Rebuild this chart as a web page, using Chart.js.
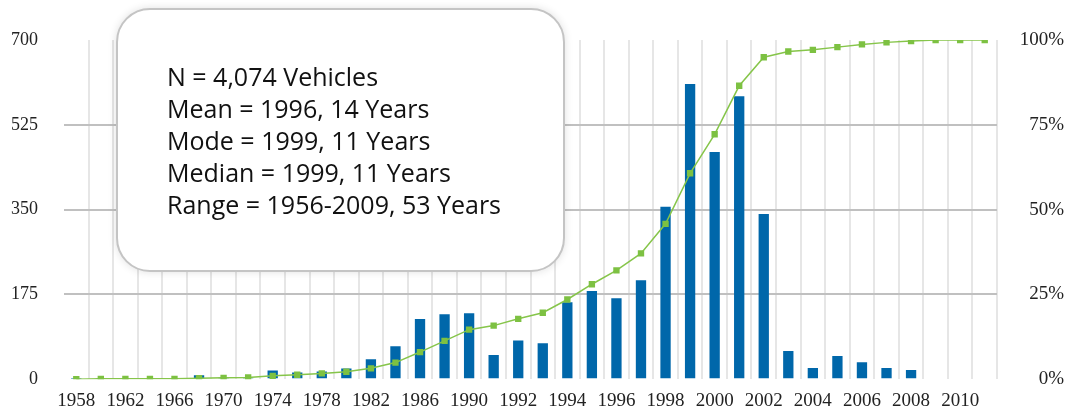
<!DOCTYPE html>
<html>
<head>
<meta charset="utf-8">
<script src="https://cdn.jsdelivr.net/npm/chart.js@4"></script>
<style>
    body { margin: 0; background: #fff; overflow: hidden; }
    #wrap { position: relative; width: 1071px; height: 416px; }
    #note {
        position: absolute; left: 116px; top: 8px; width: 449px; height: 264px;
        box-sizing: border-box; background: #fff;
        border: 2px solid #c4c4c4; border-radius: 34px;
        box-shadow: 0 0 8px rgba(0,0,0,0.12);
        padding: 50px 0 0 49px;
        font-family: "Open Sans", Arial, sans-serif; font-size: 25px;
        line-height: 32px; color: #111;
    }
</style>
</head>
<body>
<div id="wrap">
    <canvas id="chart"></canvas>
    <div id="note">
        N = 4,074 Vehicles<br>
        Mean = 1996, 14 Years<br>
        Mode = 1999, 11 Years<br>
        Median = 1999, 11 Years<br>
        Range = 1956-2009, 53 Years
    </div>
</div>
<script>
// model years (2-year steps until 1990, then yearly)
let years = ["1958","1960","1962","1964","1966","1968","1970","1972","1974","1976",
    "1978","1980","1982","1984","1986","1988","1990","1991","1992","1993",
    "1994","1995","1996","1997","1998","1999","2000","2001","2002","2003",
    "2004","2005","2006","2007","2008","2009","2010","2011"];

let vehicles = [1,1,1,1,1,8,3,3,18,14,
    16,22,41,68,124,134,136,50,80,74,
    159,182,167,204,356,609,469,584,341,58,
    23,48,35,23,19,2,0,0];

let cumulative = [0.0,0.1,0.1,0.1,0.1,0.3,0.4,0.5,1.0,1.3,
    1.7,2.2,3.2,4.9,8.0,11.3,14.6,15.8,17.8,19.6,
    23.5,28.0,32.1,37.1,45.8,60.7,72.2,86.5,94.9,96.6,
    97.1,97.9,98.7,99.3,99.7,100,100,100];

let leftTicks = [0, 175, 350, 525, 700];
let rightTicks = [0, 25, 50, 75, 100];

const serif = "'Liberation Serif', 'Times New Roman', serif";
const nBounds = years.length;

new Chart(document.getElementById("chart"), {
    data: {
        labels: years,
        datasets: [{
            type: 'line',
            data: cumulative,
            yAxisID: 'y2',
            borderColor: '#86c54a',
            backgroundColor: '#7dc142',
            borderWidth: 1.5,
            pointStyle: 'rect',
            pointRadius: 4.5,
            pointBorderWidth: 0,
            order: 0
        }, {
            type: 'bar',
            data: vehicles,
            yAxisID: 'y',
            backgroundColor: '#0067aa',
            barPercentage: 0.84,
            categoryPercentage: 0.5,
            order: 1
        }]
    },
    options: {
        responsive: true,
        maintainAspectRatio: false,
        animation: false,
        layout: { padding: { top: 40, left: 0, right: 7, bottom: 0 } },
        plugins: { legend: { display: false }, tooltip: { enabled: false } },
        scales: {
            x: {
                afterFit: s => { s.height = 27; },
                border: { display: false },
                grid: {
                    offset: true,
                    drawTicks: false,
                    lineWidth: 2,
                    color: c => (c.index === 0 || c.index >= nBounds) ? 'rgba(0,0,0,0)' : '#e6e6e6'
                },
                ticks: {
                    autoSkip: false,
                    maxRotation: 0,
                    padding: 10,
                    color: '#222',
                    font: { family: serif, size: 19 },
                    callback: function(v, i) { return i % 2 === 0 ? years[i] : ''; }
                }
            },
            y: {
                position: 'left',
                min: 0, max: 700,
                afterFit: s => { s.width = 64; },
                afterBuildTicks: s => { s.ticks = leftTicks.map(v => ({ value: v })); },
                border: { display: false },
                grid: {
                    drawTicks: false,
                    lineWidth: 2,
                    color: c => (c.tick.value === 0 || c.tick.value === 700) ? 'rgba(0,0,0,0)' : '#c0c0c0'
                },
                ticks: { padding: 26, color: '#222', font: { family: serif, size: 18 } }
            },
            y2: {
                position: 'right',
                min: 0, max: 100,
                afterFit: s => { s.width = 67; },
                afterBuildTicks: s => { s.ticks = rightTicks.map(v => ({ value: v })); },
                border: { display: false },
                grid: { display: false, drawTicks: false },
                ticks: {
                    padding: 19,
                    crossAlign: 'far',
                    color: '#222',
                    font: { family: serif, size: 19 },
                    callback: v => v + '%'
                }
            }
        }
    }
});
</script>
</body>
</html>
